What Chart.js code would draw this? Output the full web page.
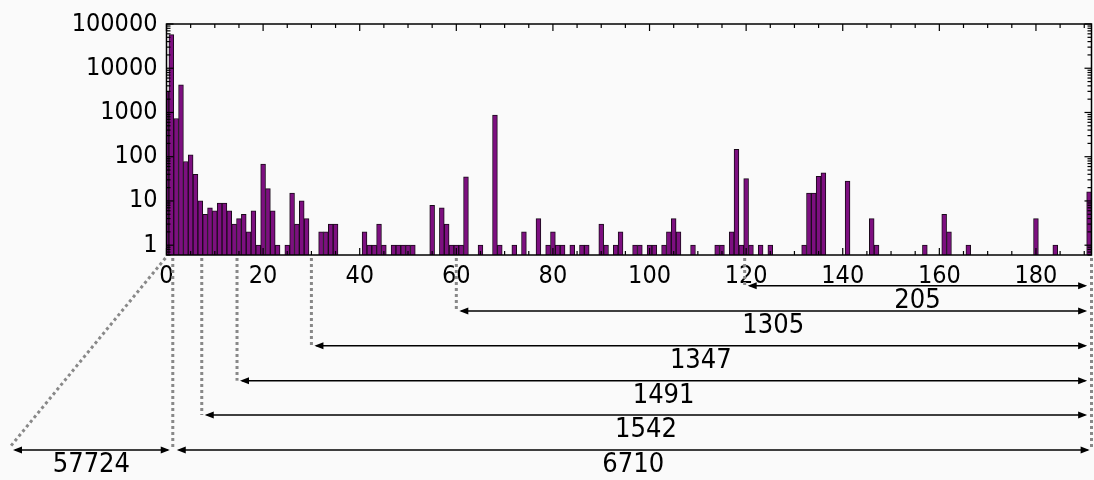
<!DOCTYPE html>
<html>
<head>
<meta charset="utf-8">
<script src="https://cdn.jsdelivr.net/npm/chart.js@4.4.1/dist/chart.umd.min.js"></script>
<style>
  html, body { margin: 0; padding: 0; background: #fafafa; }
  canvas { display: block; }
</style>
</head>
<body>
<canvas id="histChart" width="1094" height="480"></canvas>
<script>
// Histogram: only the non-empty bins are listed
const binValues = [
  0, 1, 2, 3, 4, 5, 6, 7, 8, 9, 10, 11, 12, 13, 14, 15, 16, 17, 18, 19, 20, 21, 22, 23,
  25, 26, 27, 28, 29,
  32, 33, 34, 35,
  41, 42, 43, 44, 45,
  47, 48, 49, 50, 51,
  55, 57, 58, 59, 60, 61, 62,
  65, 68, 69,
  72, 74, 77,
  79, 80, 81, 82,
  84, 86, 87,
  90, 91, 93, 94,
  97, 98, 100, 101,
  103, 104, 105, 106,
  109,
  114, 115, 117, 118, 119, 120, 121, 123, 125,
  132, 133, 134, 135, 136,
  141, 146, 147,
  157, 161, 162, 166,
  180, 184, 191
];
const binCounts = [
  3000, 57724, 730, 4200, 78, 110, 40, 10, 5, 7, 6, 9, 9, 6, 3, 4, 5, 2, 6, 1, 68, 19, 6, 1,
  1, 15, 3, 10, 4,
  2, 2, 3, 3,
  2, 1, 1, 3, 1,
  1, 1, 1, 1, 1,
  8, 7, 3, 1, 1, 1, 35,
  1, 875, 1,
  1, 2, 4,
  1, 2, 1, 1,
  1, 1, 1,
  3, 1, 1, 2,
  1, 1, 1, 1,
  1, 2, 4, 2,
  1,
  1, 1, 2, 147, 1, 32, 1, 1, 1,
  1, 15, 15, 36, 43,
  28, 4, 1,
  1, 5, 2, 1,
  4, 1, 16
];

const xTicks = [0, 20, 40, 60, 80, 100, 120, 140, 160, 180];
const yTicks = [1, 10, 100, 1000, 10000, 100000];

// bracket annotations under the axis (from cutoff to the end)
const cutoffs = [119.7, 60, 30, 14.6, 7.3, 1.3];
const tailCounts = [205, 1305, 1347, 1491, 1542, 6710];
const zeroCount = 57724;

const FONT = "'DejaVu Sans Condensed', 'DejaVu Sans'";

function seg(ctx, x1, y1, x2, y2) {
  ctx.beginPath(); ctx.moveTo(x1, y1); ctx.lineTo(x2, y2); ctx.stroke();
}
function head(ctx, x, y, dir) {
  ctx.beginPath();
  ctx.moveTo(x, y);
  ctx.lineTo(x - dir * 9, y - 3.5);
  ctx.lineTo(x - dir * 9, y + 3.5);
  ctx.closePath();
  ctx.fill();
}
function arrow(ctx, x1, x2, y) {
  ctx.setLineDash([]);
  ctx.lineWidth = 1.5;
  seg(ctx, x1 + 2, y, x2 - 2, y);
  head(ctx, x1, y, -1);
  head(ctx, x2, y, 1);
}

const framePlugin = {
  id: 'framePlugin',
  afterDraw(chart) {
    const { ctx, chartArea: a, scales: { x, y } } = chart;
    ctx.save();
    ctx.strokeStyle = '#000';
    ctx.fillStyle = '#000';

    // ticks, pointing inward, on all four sides
    ctx.lineWidth = 1.2;
    for (let v = 0; v <= 190; v += 5) {
      const px = x.getPixelForValue(v);
      const len = v % 20 === 0 ? 7 : 4;
      seg(ctx, px, a.bottom, px, a.bottom - len);
      seg(ctx, px, a.top, px, a.top + len);
    }
    for (let d = -1; d <= 4; d++) {
      for (let m = 1; m <= 9; m++) {
        const v = m * Math.pow(10, d);
        if (v < y.min || v > y.max) continue;
        const py = y.getPixelForValue(v);
        const len = m === 1 ? 7 : 4;
        seg(ctx, a.left, py, a.left + len, py);
        seg(ctx, a.right, py, a.right - len, py);
      }
    }
    const topPx = y.getPixelForValue(100000);
    seg(ctx, a.left, topPx, a.left + 7, topPx);
    seg(ctx, a.right, topPx, a.right - 7, topPx);

    // frame
    ctx.lineWidth = 1.5;
    ctx.strokeRect(a.left, a.top, a.right - a.left, a.bottom - a.top);

    // bracket annotations
    const rows = [285.7, 311, 345.7, 380.7, 415, 450];
    const endPx = x.getPixelForValue(190.6);
    const dotTop = a.bottom + 3;

    ctx.strokeStyle = '#888';
    ctx.lineWidth = 3;
    ctx.setLineDash([3, 3]);
    cutoffs.forEach((c, i) => {
      const px = x.getPixelForValue(c);
      seg(ctx, px, dotTop, px, rows[i]);
    });
    const rightPx = a.right;
    seg(ctx, rightPx, dotTop, rightPx, rows[rows.length - 1]);
    seg(ctx, a.left - 1, dotTop, 10, 447);

    ctx.strokeStyle = '#000';
    ctx.font = '27px ' + FONT;
    ctx.textAlign = 'center';
    ctx.textBaseline = 'middle';
    cutoffs.forEach((c, i) => {
      const px = x.getPixelForValue(c);
      const last = i === cutoffs.length - 1;
      const x1 = px + (last ? 4 : 3);
      const x2 = last ? endPx + 2.5 : endPx;
      arrow(ctx, x1, x2, rows[i]);
      ctx.fillText(String(tailCounts[i]), (x1 + x2) / 2, rows[i] + 15);
    });
    const zx2 = x.getPixelForValue(1.3) - 3;
    arrow(ctx, 13, zx2, rows[rows.length - 1]);
    ctx.fillText(String(zeroCount), (13 + zx2) / 2, rows[rows.length - 1] + 15);

    ctx.restore();
  }
};

new Chart(document.getElementById('histChart').getContext('2d'), {
  type: 'bar',
  data: {
    datasets: [{
      data: binValues.map((v, i) => ({ x: v, y: binCounts[i] })),
      backgroundColor: '#7d0f80',
      borderColor: '#1a0a1a',
      borderWidth: 1,
      barPercentage: 1,
      categoryPercentage: 1
    }]
  },
  options: {
    responsive: false,
    animation: false,
    devicePixelRatio: 1,
    layout: { padding: { top: 22, right: 2.5, left: 0, bottom: 0 } },
    plugins: { legend: { display: false }, tooltip: { enabled: false } },
    scales: {
      x: {
        type: 'linear',
        min: 0,
        max: 191.5,
        offset: false,
        afterBuildTicks: s => { s.ticks = xTicks.map(v => ({ value: v })); },
        afterFit: s => { s.height = 225; },
        grid: { display: false, drawTicks: false },
        border: { display: false },
        ticks: { color: '#000', font: { family: FONT, size: 25 }, padding: 6, maxRotation: 0, autoSkip: false }
      },
      y: {
        type: 'logarithmic',
        min: 0.6,
        max: 100000,
        afterBuildTicks: s => { s.ticks = yTicks.map(v => ({ value: v })); },
        afterFit: s => { s.width = 166.5; },
        grid: { display: false, drawTicks: false },
        border: { display: false },
        ticks: { color: '#000', font: { family: FONT, size: 25 }, padding: 9, callback: v => String(v) }
      }
    }
  },
  plugins: [framePlugin]
});
</script>
</body>
</html>
